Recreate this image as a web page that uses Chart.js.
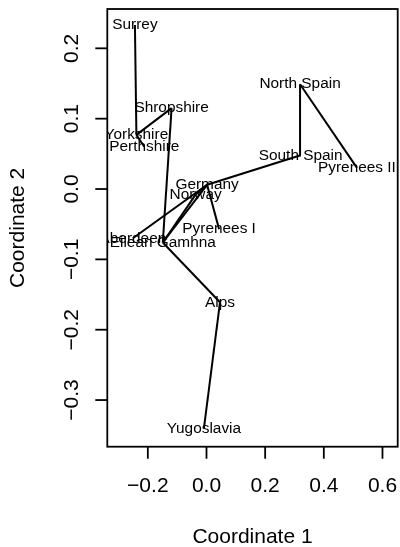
<!DOCTYPE html>
<html>
<head>
<meta charset="utf-8">
<script src="https://cdn.jsdelivr.net/npm/chart.js@4/dist/chart.umd.min.js"></script>
<style>
  html, body { margin: 0; padding: 0; background: #ffffff; }
  canvas { display: block; }
</style>
</head>
<body>
<canvas id="c" width="400" height="547"></canvas>
<script>
// ---- data ----
const sites = ["Surrey", "Shropshire", "Yorkshire", "Perthshire", "Aberdeen", "Eilean Gamhna",
  "Germany", "Norway", "Pyrenees I", "Pyrenees II", "North Spain", "South Spain", "Alps", "Yugoslavia"];
const coord1 = [-0.244, -0.119, -0.239, -0.212, -0.251, -0.149,
  0.002, -0.037, 0.043, 0.513, 0.319, 0.321, 0.046, -0.009];
const coord2 = [0.233, 0.115, 0.077, 0.060, -0.070, -0.076,
  0.006, -0.008, -0.057, 0.030, 0.149, 0.048, -0.161, -0.341];
// minimum spanning tree edges
const edgeFrom = ["Surrey", "Yorkshire", "Yorkshire", "Shropshire", "Eilean Gamhna", "Alps",
  "Eilean Gamhna", "Eilean Gamhna", "Aberdeen", "Germany", "Germany", "South Spain", "North Spain", "Norway"];
const edgeTo = ["Yorkshire", "Shropshire", "Perthshire", "Eilean Gamhna", "Alps", "Yugoslavia",
  "Germany", "Norway", "Germany", "Pyrenees I", "South Spain", "North Spain", "Pyrenees II", "Germany"];
const xTicks = [-0.2, 0.0, 0.2, 0.4, 0.6];
const xTickLabels = ["\u22120.2", "0.0", "0.2", "0.4", "0.6"];
const yTicks = [-0.3, -0.2, -0.1, 0.0, 0.1, 0.2];
const yTickLabels = ["\u22120.3", "\u22120.2", "\u22120.1", "0.0", "0.1", "0.2"];
const xTitle = "Coordinate 1";
const yTitle = "Coordinate 2";

// ---- build datasets ----
const idx = n => sites.indexOf(n);
const datasets = edgeFrom.map((f, k) => {
  const a = idx(f), b = idx(edgeTo[k]);
  return {
    data: [{x: coord1[a], y: coord2[a]}, {x: coord1[b], y: coord2[b]}],
    showLine: true,
    borderColor: "#000000",
    borderWidth: 2,
    pointRadius: 0,
    fill: false
  };
});

const FONT = '"Liberation Sans", Arial, Helvetica, sans-serif';

const rPlot = {
  id: "rPlot",
  afterDatasetsDraw(chart) {
    const ctx = chart.ctx, a = chart.chartArea;
    const xs = chart.scales.x, ys = chart.scales.y;
    // site labels, clipped to plot region
    ctx.save();
    ctx.beginPath();
    ctx.rect(a.left, a.top, a.right - a.left, a.bottom - a.top);
    ctx.clip();
    ctx.fillStyle = "#000";
    ctx.font = "15.4px " + FONT;
    ctx.textAlign = "center";
    ctx.textBaseline = "middle";
    sites.forEach((s, i) => {
      ctx.fillText(s, xs.getPixelForValue(coord1[i]), ys.getPixelForValue(coord2[i]));
    });
    ctx.restore();
  },
  afterDraw(chart) {
    const ctx = chart.ctx, a = chart.chartArea;
    const xs = chart.scales.x, ys = chart.scales.y;
    ctx.save();
    ctx.strokeStyle = "#000";
    ctx.lineWidth = 1.8;
    // box
    ctx.strokeRect(a.left, a.top, a.right - a.left, a.bottom - a.top);
    // x ticks
    ctx.fillStyle = "#000";
    ctx.font = "21px " + FONT;
    ctx.textAlign = "center";
    ctx.textBaseline = "middle";
    xTicks.forEach((v, i) => {
      const px = xs.getPixelForValue(v);
      ctx.beginPath();
      ctx.moveTo(px, a.bottom);
      ctx.lineTo(px, a.bottom + 12);
      ctx.stroke();
      ctx.fillText(xTickLabels[i], px, a.bottom + 40);
    });
    // y ticks
    yTicks.forEach((v, i) => {
      const py = ys.getPixelForValue(v);
      ctx.beginPath();
      ctx.moveTo(a.left, py);
      ctx.lineTo(a.left - 12, py);
      ctx.stroke();
      ctx.save();
      ctx.translate(a.left - 35, py);
      ctx.rotate(-Math.PI / 2);
      ctx.fillText(yTickLabels[i], 0, 0);
      ctx.restore();
    });
    // axis titles
    ctx.fillText(xTitle, (a.left + a.right) / 2, 537);
    ctx.save();
    ctx.translate(18, (a.top + a.bottom) / 2);
    ctx.rotate(-Math.PI / 2);
    ctx.fillText(yTitle, 0, 0);
    ctx.restore();
    ctx.restore();
  }
};

new Chart(document.getElementById("c"), {
  type: "scatter",
  data: { datasets },
  options: {
    responsive: false,
    devicePixelRatio: 1,
    animation: false,
    layout: { padding: { left: 107.3, right: 2.3, top: 9, bottom: 100.3 } },
    plugins: { legend: { display: false }, tooltip: { enabled: false } },
    scales: {
      x: { type: "linear", min: -0.3382, max: 0.6519, display: false },
      y: { type: "linear", min: -0.3663, max: 0.2559, display: false }
    }
  },
  plugins: [rPlot]
});
</script>
</body>
</html>
